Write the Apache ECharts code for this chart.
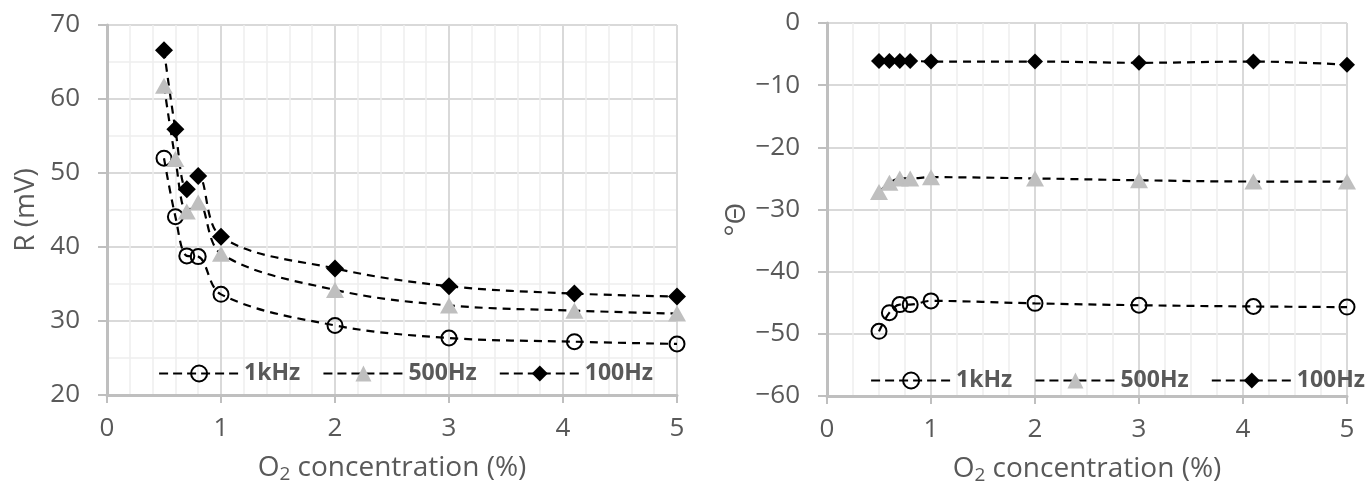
<!DOCTYPE html>
<html>
<head>
<meta charset="utf-8">
<script src="https://cdn.jsdelivr.net/npm/echarts@6/dist/echarts.min.js"></script>
<style>
  html, body { margin: 0; padding: 0; background: #ffffff; }
  #chart { width: 1369px; height: 490px; }
</style>
</head>
<body>
<div id="chart"></div>
<script>
// O2 concentration (%) for every measurement
const concentrations = [0.5, 0.6, 0.7, 0.8, 1, 2, 3, 4.1, 5];
const seriesNames = ["1kHz", "500Hz", "100Hz"];

// left panel: R (mV)
const resistance1k = [52.0, 44.1, 38.8, 38.7, 33.6, 29.4, 27.7, 27.2, 26.9];
const resistance500 = [61.8, 51.9, 44.8, 46.0, 39.1, 34.2, 32.1, 31.4, 31.0];
const resistance100 = [66.6, 55.9, 47.8, 49.6, 41.4, 37.1, 34.7, 33.7, 33.3];

// right panel: phase (degrees)
const phase1k = [-49.6, -46.6, -45.3, -45.3, -44.7, -45.1, -45.4, -45.6, -45.7];
const phase500 = [-27.2, -25.7, -25.0, -25.0, -24.8, -25.0, -25.3, -25.5, -25.5];
const phase100 = [-6.1, -6.1, -6.1, -6.1, -6.2, -6.2, -6.4, -6.2, -6.7];

const FONT = "Open Sans";
const TEXT = "#595959";
const AXIS = "#bfbfbf";

const chart = echarts.init(document.getElementById("chart"), undefined, { renderer: "canvas" });

const toPoints = (values) => concentrations.map((x, i) => [x, values[i]]);
const minus = (value) => String(value).replace("-", "\u2212");

const markerStyles = {
  "1kHz": {
    symbol: "circle",
    sizes: [15, 15],
    itemStyle: { color: "rgba(0,0,0,0)", borderColor: "#000", borderWidth: 2 },
  },
  "500Hz": {
    symbol: "triangle",
    sizes: [[18, 16], [18, 16]],
    itemStyle: { color: "#bfbfbf" },
  },
  "100Hz": {
    symbol: "diamond",
    sizes: [18, 16],
    itemStyle: { color: "#000" },
  },
};

function makeSeries(name, values, panel) {
  const style = markerStyles[name];
  return {
    name,
    type: "line",
    xAxisIndex: panel,
    yAxisIndex: panel,
    data: toPoints(values),
    smooth: 0.35,
    symbol: style.symbol,
    symbolSize: style.sizes[panel],
    showAllSymbol: true,
    itemStyle: style.itemStyle,
    lineStyle: { color: "#000", width: 2.2, type: [8, 6] },
    emphasis: { disabled: true },
  };
}

function xAxisFor(panel, minorSplit) {
  return {
    type: "value",
    gridIndex: panel,
    min: 0,
    max: 5,
    interval: 1,
    name: "{a|O}{s|2}{a| concentration (%)}",
    nameLocation: "middle",
    nameGap: 57,
    nameTextStyle: {
      rich: {
        a: { fontFamily: FONT, fontSize: 28, color: TEXT },
        s: { fontFamily: FONT, fontSize: 19, color: TEXT, padding: [13, 0, 0, 0] },
      },
    },
    axisLine: { onZero: false, lineStyle: { color: AXIS, width: 3 } },
    axisTick: { show: true, length: 8, lineStyle: { color: AXIS, width: 2 } },
    axisLabel: { margin: 21, fontFamily: FONT, fontSize: 26, color: TEXT },
    splitLine: { show: true, lineStyle: { color: "#d9d9d9", width: 2 } },
    minorTick: { show: false, splitNumber: minorSplit },
    minorSplitLine: { show: true, lineStyle: { color: "#eeeeee", width: 1.5 } },
  };
}

function legendFor(left, top) {
  return {
    left,
    top,
    width: 560,
    data: seriesNames,
    itemWidth: 80,
    itemHeight: 20,
    itemGap: 22,
    selectedMode: false,
    lineStyle: { color: "#000", width: 2.2, type: [9, 5] },
    textStyle: { fontFamily: FONT, fontSize: 23, fontWeight: "bold", color: TEXT },
  };
}

chart.setOption({
  animation: false,
  backgroundColor: "#ffffff",
  grid: [
    { left: 107, right: 692, top: 25, bottom: 95 },
    { left: 827, right: 22, top: 23, bottom: 89 },
  ],
  legend: [legendFor(153, 357), legendFor(865, 364)],
  xAxis: [xAxisFor(0, 5), xAxisFor(1, 4)],
  yAxis: [
    {
      type: "value",
      gridIndex: 0,
      min: 20,
      max: 70,
      interval: 10,
      name: "R (mV)",
      nameLocation: "middle",
      nameGap: 67,
      nameTextStyle: { fontFamily: FONT, fontSize: 28, color: TEXT },
      axisLine: { show: true, onZero: false, lineStyle: { color: AXIS, width: 3 } },
      axisTick: { show: true, length: 9, lineStyle: { color: AXIS, width: 2 } },
      axisLabel: { margin: 27, fontFamily: FONT, fontSize: 26, color: TEXT },
      splitLine: { show: true, lineStyle: { color: "#d9d9d9", width: 2 } },
      minorTick: { show: false, splitNumber: 2 },
      minorSplitLine: { show: true, lineStyle: { color: "#eeeeee", width: 1.5 } },
    },
    {
      type: "value",
      gridIndex: 1,
      min: -60,
      max: 0,
      interval: 10,
      name: "\u00b0\u0398",
      nameLocation: "middle",
      nameGap: 75,
      nameTextStyle: { fontFamily: FONT, fontSize: 28, color: TEXT, padding: [0, 20, 0, 0] },
      axisLine: { show: true, onZero: false, lineStyle: { color: AXIS, width: 3 } },
      axisTick: { show: true, length: 9, lineStyle: { color: AXIS, width: 2 } },
      axisLabel: { margin: 27, fontFamily: FONT, fontSize: 26, color: TEXT, formatter: minus },
      splitLine: { show: true, lineStyle: { color: "#d9d9d9", width: 2 } },
    },
  ],
  series: [
    makeSeries("1kHz", resistance1k, 0),
    makeSeries("500Hz", resistance500, 0),
    makeSeries("100Hz", resistance100, 0),
    makeSeries("1kHz", phase1k, 1),
    makeSeries("500Hz", phase500, 1),
    makeSeries("100Hz", phase100, 1),
  ],
});

window.addEventListener("resize", () => chart.resize());
</script>
</body>
</html>
